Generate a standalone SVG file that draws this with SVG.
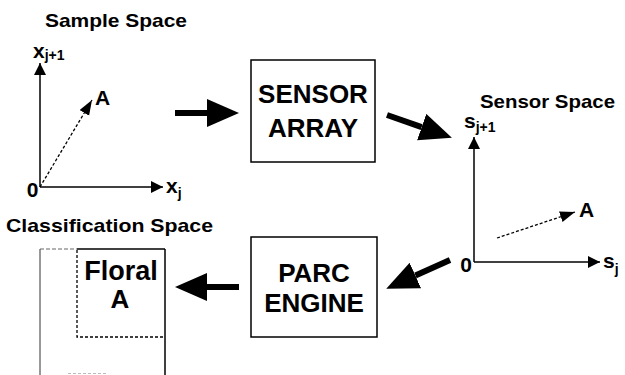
<svg xmlns="http://www.w3.org/2000/svg" width="625" height="375" viewBox="0 0 625 375">
<style>
text{font-family:"Liberation Sans",Arial,sans-serif;font-weight:bold;fill:#000}
.title{font-size:19px}
.var{font-size:21px}
.sub{font-size:14px}
.box{font-size:26px;text-anchor:middle}
.frame{fill:#fff;stroke:#000;stroke-width:1.5}
.axis{stroke:#000;stroke-width:1.5;fill:none}
.vec{stroke:#000;stroke-width:1.3;stroke-dasharray:3,2;fill:none}
.big{stroke:#000;stroke-width:6;fill:none}
</style>
<defs>
<marker id="ax" markerUnits="userSpaceOnUse" markerWidth="13" markerHeight="13" refX="12" refY="6" orient="auto"><path d="M0,0 L12,6 L0,12 z" fill="#000"/></marker>
<marker id="vh" markerUnits="userSpaceOnUse" markerWidth="16" markerHeight="12" refX="15" refY="5.5" orient="auto"><path d="M0,0 L15,5.5 L0,11 z" fill="#000"/></marker>
<marker id="bh" markerUnits="userSpaceOnUse" markerWidth="33" markerHeight="30" refX="0" refY="14" orient="auto"><path d="M0,0 L32,14 L0,28 z" fill="#000"/></marker>
</defs>

<g id="sample-space">
<text class="title" x="45" y="27" textLength="142" lengthAdjust="spacingAndGlyphs">Sample Space</text>
<line class="axis" x1="40" y1="187" x2="40" y2="63" marker-end="url(#ax)"/>
<line class="axis" x1="40" y1="187" x2="163" y2="187" marker-end="url(#ax)"/>
<line class="vec" x1="40" y1="187" x2="92" y2="100" marker-end="url(#vh)"/>
<text class="var" x="33" y="58">x<tspan class="sub" dy="2">j+1</tspan></text>
<text class="var" x="166" y="193">x<tspan class="sub" dy="5">j</tspan></text>
<text class="var" x="95" y="105">A</text>
<text class="var" x="38.5" y="197" text-anchor="end">0</text>
</g>

<g id="sensor-array">
<rect class="frame" x="251" y="60" width="124" height="102"/>
<text class="box" x="313" y="103">SENSOR</text>
<text class="box" x="313" y="137">ARRAY</text>
</g>

<g id="sensor-space">
<text class="title" x="480" y="108" textLength="135" lengthAdjust="spacingAndGlyphs">Sensor Space</text>
<line class="axis" x1="474" y1="262" x2="474" y2="137" marker-end="url(#ax)"/>
<line class="axis" x1="474" y1="262" x2="600" y2="262" marker-end="url(#ax)"/>
<line class="vec" x1="497" y1="238" x2="575" y2="212" marker-end="url(#vh)"/>
<text class="var" x="464" y="128">s<tspan class="sub" dy="4">j+1</tspan></text>
<text class="var" x="603" y="268">s<tspan class="sub" dy="6">j</tspan></text>
<text class="var" x="579" y="217">A</text>
<text class="var" x="472" y="272" text-anchor="end">0</text>
</g>

<g id="parc-engine">
<rect class="frame" x="251" y="237" width="126" height="100"/>
<text class="box" x="314" y="282">PARC</text>
<text class="box" x="314" y="312">ENGINE</text>
</g>

<g id="classification-space">
<text class="title" x="6" y="232" textLength="207" lengthAdjust="spacingAndGlyphs">Classification Space</text>
<line x1="40" y1="249" x2="40" y2="380" stroke="#333" stroke-width="1"/>
<line x1="40" y1="249" x2="77" y2="249" stroke="#666" stroke-width="1" stroke-dasharray="4,2"/>
<line x1="77" y1="249" x2="165" y2="249" stroke="#000" stroke-width="1.3"/>
<line x1="165" y1="249" x2="165" y2="380" stroke="#000" stroke-width="1.5"/>
<path d="M77,250 V337 H165" fill="none" stroke="#000" stroke-width="1.3" stroke-dasharray="3,2"/>
<text x="121" y="280" text-anchor="middle" style="font-size:27px">Floral<tspan x="120" y="308" style="font-size:26px">A</tspan></text>
<line x1="68" y1="373.5" x2="107" y2="373.5" stroke="#bbb" stroke-width="1" stroke-dasharray="3,2"/>
</g>

<g id="connectors">
<line class="big" x1="175" y1="113" x2="207" y2="113" marker-end="url(#bh)"/>
<line class="big" x1="387" y1="115" x2="421.7" y2="127.1" marker-end="url(#bh)"/>
<line class="big" x1="450" y1="260" x2="415.4" y2="275.6" marker-end="url(#bh)"/>
<line class="big" x1="239" y1="287" x2="207" y2="287" marker-end="url(#bh)"/>
</g>
</svg>
